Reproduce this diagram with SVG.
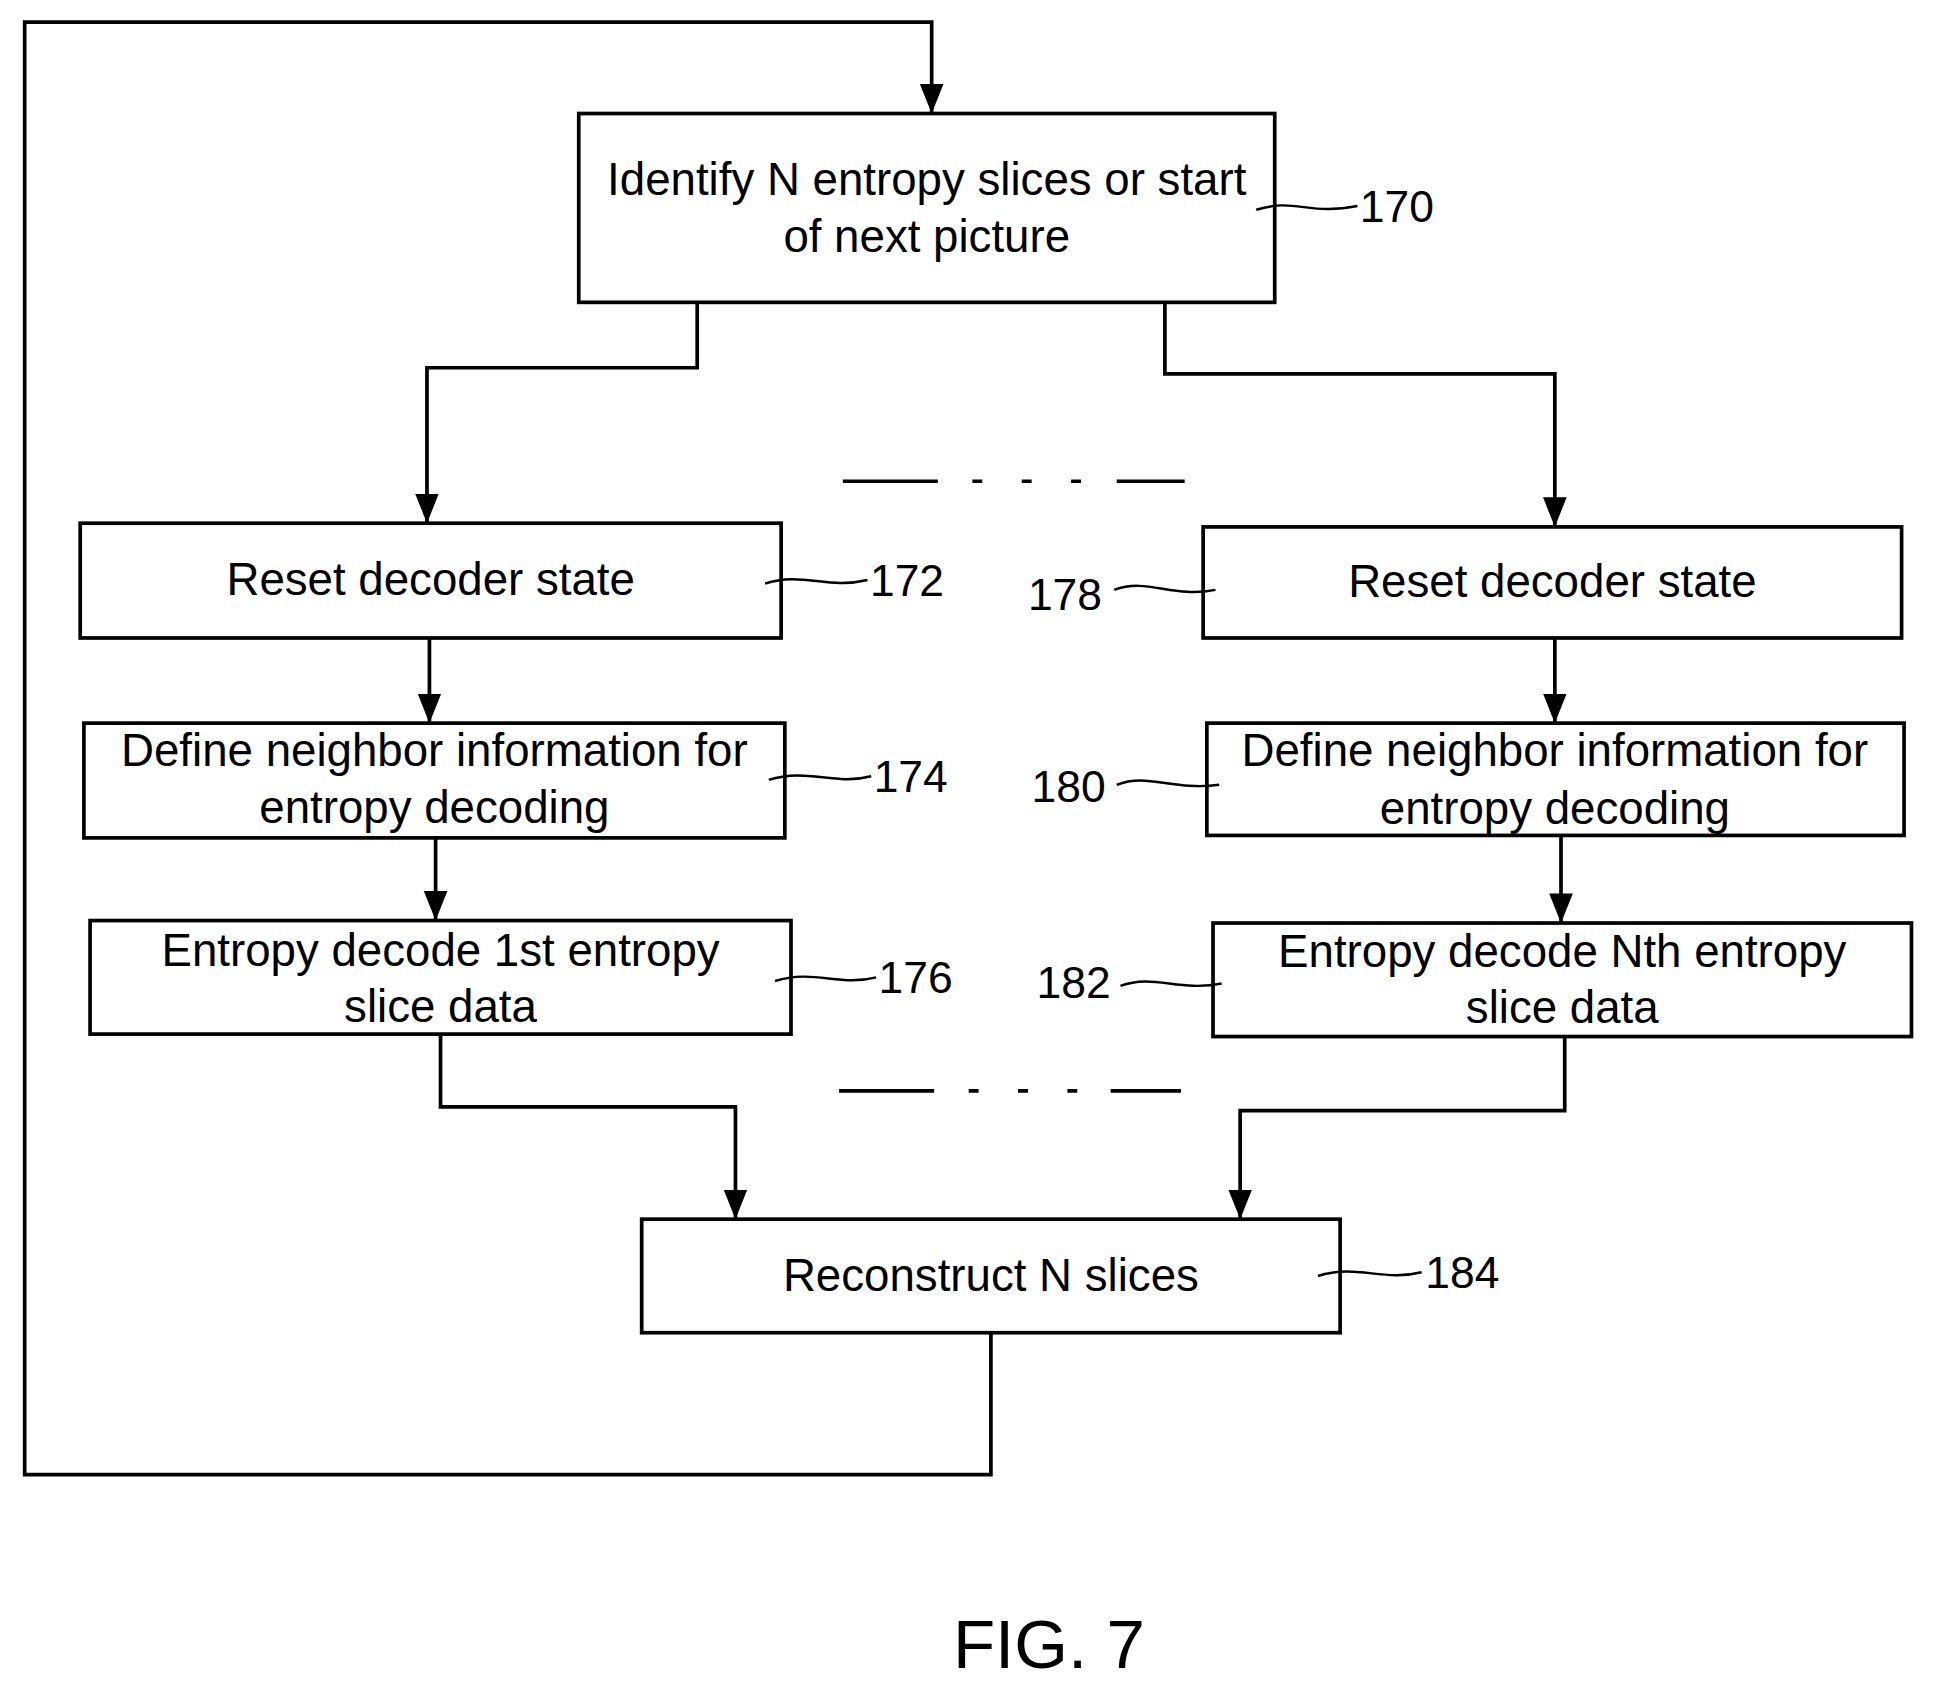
<svg xmlns="http://www.w3.org/2000/svg" width="1935" height="1691" viewBox="0 0 1935 1691">
<style>
.b{fill:#fff;stroke:#000;stroke-width:3}
.t{font-family:"Liberation Sans",Arial,sans-serif;font-size:37px;text-anchor:middle;fill:#000}
.n{font-family:"Liberation Sans",Arial,sans-serif;font-size:36px;fill:#000}
.c{fill:none;stroke:#000;stroke-width:3}
.s{fill:none;stroke:#000;stroke-width:2}
</style>
<defs>
<marker id="h" markerWidth="24" markerHeight="30" refX="30" refY="12" orient="auto" markerUnits="userSpaceOnUse" viewBox="0 0 30 24"><path d="M0,0 L30,12 L0,24z" fill="#000"/></marker></defs>
<rect width="1935" height="1691" fill="#fff"/>
<g transform="scale(1.234)">
<g id="n170"><rect class="b" x="469" y="92" width="564" height="153"/><text class="t" x="751" y="158">Identify N entropy slices or start</text><text class="t" x="751" y="204">of next picture</text><text class="n" x="1102" y="180">170</text></g>
<g id="n172"><rect class="b" x="65" y="424" width="568" height="93"/><text class="t" x="349" y="482">Reset decoder state</text><text class="n" x="705" y="483">172</text></g>
<g id="n178"><rect class="b" x="975" y="427" width="566" height="90"/><text class="t" x="1258" y="484">Reset decoder state</text><text class="n" x="833" y="494">178</text></g>
<g id="n174"><rect class="b" x="68" y="586" width="568" height="93"/><text class="t" x="352" y="621">Define neighbor information for</text><text class="t" x="352" y="667">entropy decoding</text><text class="n" x="708" y="642">174</text></g>
<g id="n180"><rect class="b" x="978" y="586" width="565" height="91"/><text class="t" x="1260" y="621">Define neighbor information for</text><text class="t" x="1260" y="668">entropy decoding</text><text class="n" x="836" y="650">180</text></g>
<g id="n176"><rect class="b" x="73" y="746" width="568" height="92"/><text class="t" x="357" y="783">Entropy decode 1st entropy</text><text class="t" x="357" y="828">slice data</text><text class="n" x="712" y="805">176</text></g>
<g id="n182"><rect class="b" x="983" y="748" width="566" height="92"/><text class="t" x="1266" y="784">Entropy decode Nth entropy</text><text class="t" x="1266" y="829">slice data</text><text class="n" x="840" y="809">182</text></g>
<g id="n184"><rect class="b" x="520" y="988" width="566" height="92"/><text class="t" x="803" y="1046">Reconstruct N slices</text><text class="n" x="1155" y="1044">184</text></g>
<g id="connectors">
<path class="c" d="M803,1080 V1195 H20 V18 H755 V92" marker-end="url(#h)"/>
<path class="c" d="M565,245 V298 H346 V424" marker-end="url(#h)"/>
<path class="c" d="M944,245 V303 H1260 V427" marker-end="url(#h)"/>
<path class="c" d="M348,517 V586" marker-end="url(#h)"/>
<path class="c" d="M1260,517 V586" marker-end="url(#h)"/>
<path class="c" d="M353,679 V746" marker-end="url(#h)"/>
<path class="c" d="M1265,677 V748" marker-end="url(#h)"/>
<path class="c" d="M357,838 V897 H596 V988" marker-end="url(#h)"/>
<path class="c" d="M1268,840 V900 H1005 V988" marker-end="url(#h)"/>
<path class="c" d="M683,390 H760 M788,390 H796 M828,390 H836 M868,390 H876 M905,390 H960"/>
<path class="c" d="M680,884 H757 M785,884 H793 M825,884 H833 M865,884 H873 M900,884 H957"/>
<path class="s" d="M1018,170 C1050,160 1060,175 1100,167"/>
<path class="s" d="M620,473 C650,463 670,478 703,470"/>
<path class="s" d="M903,478 C930,468 950,485 985,478"/>
<path class="s" d="M623,632 C655,622 675,637 706,629"/>
<path class="s" d="M905,636 C930,626 950,641 988,636"/>
<path class="s" d="M628,795 C660,785 680,800 710,792"/>
<path class="s" d="M908,799 C935,789 955,804 990,797"/>
<path class="s" d="M1068,1034 C1100,1024 1120,1039 1152,1031"/>
</g>
<text x="850" y="1352" style="font-family:'Liberation Sans',Arial,sans-serif;font-size:56px;text-anchor:middle">FIG. 7</text>
</g>
</svg>
